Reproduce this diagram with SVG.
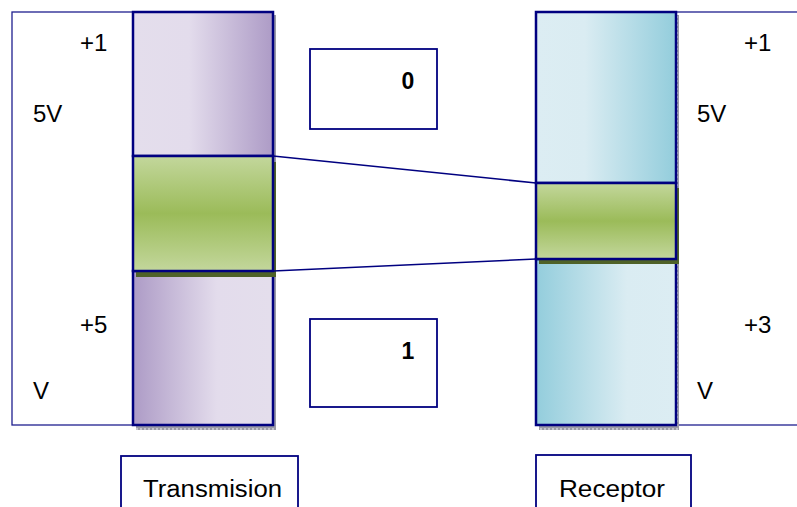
<svg xmlns="http://www.w3.org/2000/svg" width="797" height="507" viewBox="0 0 797 507">
  <defs>
    <linearGradient id="purpleTop" x1="0" y1="0" x2="1" y2="0">
      <stop offset="0" stop-color="#e4deec"/>
      <stop offset="0.4" stop-color="#e3dcec"/>
      <stop offset="1" stop-color="#ad9bc6"/>
    </linearGradient>
    <linearGradient id="purpleBot" x1="0" y1="0" x2="1" y2="0">
      <stop offset="0" stop-color="#ad9bc6"/>
      <stop offset="0.6" stop-color="#e3dcec"/>
      <stop offset="1" stop-color="#e4deec"/>
    </linearGradient>
    <linearGradient id="blueTop" x1="0" y1="0" x2="1" y2="0">
      <stop offset="0" stop-color="#dcedf3"/>
      <stop offset="0.35" stop-color="#daecf2"/>
      <stop offset="1" stop-color="#93cddc"/>
    </linearGradient>
    <linearGradient id="blueBot" x1="0" y1="0" x2="1" y2="0">
      <stop offset="0" stop-color="#93cddc"/>
      <stop offset="0.65" stop-color="#daecf2"/>
      <stop offset="1" stop-color="#dcedf3"/>
    </linearGradient>
    <linearGradient id="green" x1="0" y1="0" x2="0" y2="1">
      <stop offset="0" stop-color="#c3d79c"/>
      <stop offset="0.5" stop-color="#9bbb59"/>
      <stop offset="1" stop-color="#c3d79c"/>
    </linearGradient>
    <pattern id="hatch" width="4" height="4" patternUnits="userSpaceOnUse">
      <rect width="4" height="4" fill="#9a9aa6"/>
      <rect width="2" height="2" fill="#c4c4cc"/>
    </pattern>
  </defs>
  <style>
    .frame { fill: #ffffff; stroke: #1f1f8f; stroke-width: 1.3; }
    .bar { stroke: #000080; stroke-width: 2.5; }
    .box { fill: #ffffff; stroke: #000080; stroke-width: 1.8; }
    .lbl { font-family: "Liberation Sans", Arial, sans-serif; font-size: 24px; fill: #000000; }
    .bit { font-family: "Liberation Sans", Arial, sans-serif; font-size: 23px; font-weight: bold; fill: #000000; text-anchor: middle; }
    .cap { font-family: "Liberation Sans", Arial, sans-serif; font-size: 23px; fill: #000000; }
    .wire { stroke: #000080; stroke-width: 1.5; fill: none; }
    .shadow { fill: url(#hatch); }
    .olive { fill: #4f6228; }
  </style>

  <!-- outer voltage frames -->
  <g id="left-frame">
    <rect class="frame" x="12" y="12" width="121" height="413"/>
    <text class="lbl" x="80" y="51">+1</text>
    <text class="lbl" x="33" y="122">5V</text>
    <text class="lbl" x="80" y="333">+5</text>
    <text class="lbl" x="33" y="399">V</text>
  </g>
  <g id="right-frame">
    <rect class="frame" x="676" y="12" width="130" height="413"/>
    <text class="lbl" x="744" y="51">+1</text>
    <text class="lbl" x="697" y="122">5V</text>
    <text class="lbl" x="744" y="333">+3</text>
    <text class="lbl" x="697" y="399">V</text>
  </g>

  <!-- transmitter column -->
  <g id="transmitter">
    <rect class="shadow" x="136" y="15" width="140" height="415"/>
    <rect class="bar" x="133" y="12" width="140" height="144" fill="url(#purpleTop)"/>
    <rect class="bar" x="133" y="271" width="140" height="154" fill="url(#purpleBot)"/>
    <rect class="olive" x="136" y="162" width="140" height="115"/>
    <rect class="bar" x="133" y="156" width="140" height="115" fill="url(#green)"/>
  </g>

  <!-- receiver column -->
  <g id="receiver">
    <rect class="shadow" x="539" y="15" width="140" height="415"/>
    <rect class="bar" x="536" y="12" width="140" height="171" fill="url(#blueTop)"/>
    <rect class="bar" x="536" y="259" width="140" height="166" fill="url(#blueBot)"/>
    <rect class="olive" x="539" y="188" width="140" height="76"/>
    <rect class="bar" x="536" y="183" width="140" height="76" fill="url(#green)"/>
  </g>

  <!-- bit value boxes -->
  <g id="bit-zero">
    <rect class="box" x="310" y="49" width="127" height="80"/>
    <text class="bit" x="408" y="89">0</text>
  </g>
  <g id="bit-one">
    <rect class="box" x="310" y="319" width="127" height="88"/>
    <text class="bit" x="408" y="359">1</text>
  </g>

  <!-- captions -->
  <g id="caption-transmision">
    <rect class="box" x="121" y="456" width="177" height="60"/>
    <text class="cap" x="143" y="497" textLength="139" lengthAdjust="spacingAndGlyphs">Transmision</text>
  </g>
  <g id="caption-receptor">
    <rect class="box" x="536" y="455" width="155" height="60"/>
    <text class="cap" x="559" y="497" textLength="106" lengthAdjust="spacingAndGlyphs">Receptor</text>
  </g>

  <!-- connectors between the green bands -->
  <g id="connectors">
    <line class="wire" x1="273" y1="156" x2="536" y2="183"/>
    <line class="wire" x1="273" y1="271" x2="536" y2="259"/>
  </g>
</svg>
